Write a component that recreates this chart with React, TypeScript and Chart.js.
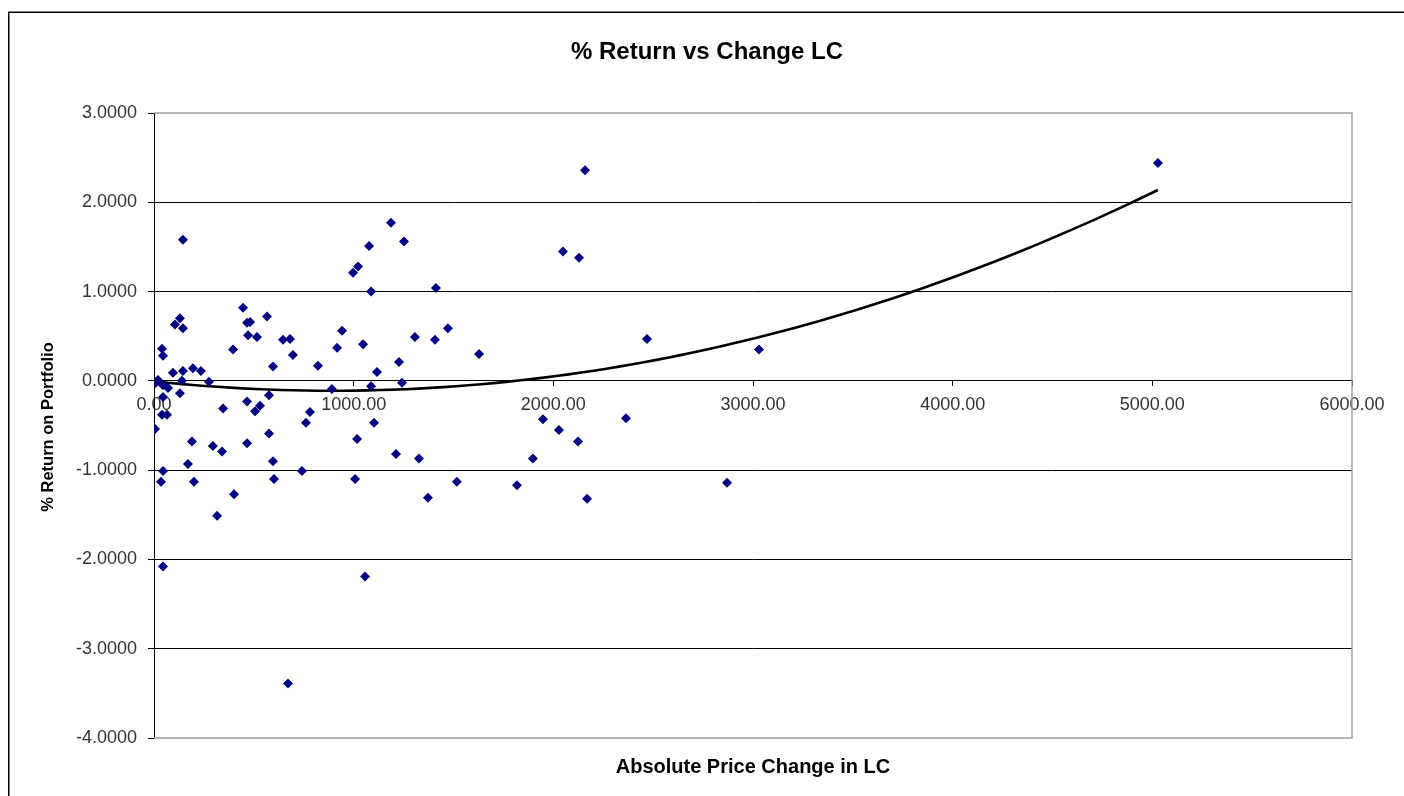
import React, { useEffect, useRef } from "react";
import { Chart, registerables } from "chart.js";

Chart.register(...registerables);

const TITLE = "% Return vs Change LC";
const X_TITLE = "Absolute Price Change in LC";
const Y_TITLE = "% Return on Portfolio";

// Absolute price change in LC (x)
const priceChange = [
  5028, 2159, 145, 1187, 1077, 1252, 1022, 997, 1087, 2048,
  2129, 1412, 446, 466, 481, 566, 471, 516, 105, 130,
  145, 942, 646, 681, 917, 40, 45, 396, 696, 596,
  821, 95, 145, 195, 235, 1047, 1307, 1407, 1472, 1227,
  1117, 1628, 2469, 3030, 20, 5, 45, 70, 140, 275,
  130, 45, 1087, 1242, 891, 576, 531, 506, 466, 346,
  781, 761, 1102, 40, 65, 5, 576, 190, 295, 341,
  466, 1017, 1948, 2028, 2124, 2364, 1327, 1898, 596, 170,
  741, 45, 1212, 35, 200, 601, 1007, 1517, 1818, 2870,
  401, 1372, 2169, 316, 45, 1057, 671,
];

// % return on portfolio (y)
const portfolioReturn = [
  2.44, 2.36, 1.58, 1.77, 1.51, 1.56, 1.28, 1.21, 1.0, 1.45,
  1.38, 1.04, 0.82, 0.65, 0.66, 0.72, 0.51, 0.49, 0.63, 0.7,
  0.59, 0.56, 0.46, 0.47, 0.37, 0.36, 0.28, 0.35, 0.29, 0.16,
  0.17, 0.09, 0.11, 0.14, 0.11, 0.41, 0.49, 0.46, 0.59, 0.21,
  0.1, 0.3, 0.47, 0.35, 0.01, -0.03, -0.05, -0.08, 0.0, -0.01,
  -0.14, -0.18, -0.06, -0.02, -0.09, -0.16, -0.28, -0.34, -0.23, -0.31,
  -0.35, -0.47, -0.47, -0.38, -0.38, -0.54, -0.59, -0.68, -0.73, -0.79,
  -0.7, -0.65, -0.43, -0.55, -0.68, -0.42, -0.87, -0.87, -0.9, -0.93,
  -1.01, -1.01, -0.82, -1.13, -1.13, -1.1, -1.1, -1.13, -1.17, -1.14,
  -1.27, -1.31, -1.32, -1.51, -2.08, -2.19, -3.39,
];

// Polynomial (order 2) trendline coefficients: y = c0 + c1*x + c2*x^2
const trendCoefficients = [-0.005, -2.36e-4, 1.317e-7];

const X_MIN = 0;
const X_MAX = 6000;
const X_STEP = 1000;
const Y_MIN = -4;
const Y_MAX = 3;
const Y_STEP = 1;

const FONT = '"Liberation Sans", Arial, sans-serif';

export default function App() {
  const ref = useRef<HTMLCanvasElement | null>(null);

  useEffect(() => {
    const canvas = ref.current;
    if (!canvas) return;
    const points = priceChange.map((x, i) => ({ x, y: portfolioReturn[i] }));
    const [c0, c1, c2] = trendCoefficients;
    const lo = Math.min(...priceChange);
    const hi = Math.max(...priceChange);
    const trend: { x: number; y: number }[] = [];
    const N = 80;
    for (let i = 0; i <= N; i++) {
      const x = lo + ((hi - lo) * i) / N;
      trend.push({ x, y: c0 + c1 * x + c2 * x * x });
    }

    const decor = {
      id: "decor",
      afterDraw(chart: any) {
        const ctx = chart.ctx;
        const a = chart.chartArea;
        ctx.save();
        // plot-area border (gray)
        ctx.strokeStyle = "#a0a0a0";
        ctx.lineWidth = 1.5;
        ctx.beginPath();
        ctx.moveTo(a.left, a.top);
        ctx.lineTo(a.right, a.top);
        ctx.lineTo(a.right, a.bottom);
        ctx.lineTo(a.left, a.bottom);
        ctx.stroke();
        // outer frame
        ctx.strokeStyle = "#000";
        ctx.lineWidth = 1.5;
        ctx.strokeRect(8.75, 12.25, 1500, 900);
        // titles
        ctx.fillStyle = "#000";
        ctx.textAlign = "center";
        ctx.textBaseline = "middle";
        ctx.font = `bold 24px ${FONT}`;
        ctx.fillText(TITLE, 707, 52);
        ctx.font = `bold 20px ${FONT}`;
        ctx.fillText(X_TITLE, (a.left + a.right) / 2, 767);
        ctx.translate(48, 427);
        ctx.rotate(-Math.PI / 2);
        ctx.font = `bold 16.5px ${FONT}`;
        ctx.fillText(Y_TITLE, 0, 0);
        ctx.restore();
      },
    };

    const chart = new Chart(canvas, {
      type: "scatter",
      data: {
        datasets: [
          {
            type: "scatter",
            data: points,
            pointStyle: "rectRot",
            pointRadius: 5,
            pointBorderWidth: 0,
            backgroundColor: "#000080",
            borderColor: "#000080",
            order: 0,
          } as any,
          {
            type: "line",
            data: trend,
            borderColor: "#000",
            borderWidth: 2.6,
            pointRadius: 0,
            fill: false,
            tension: 0,
            order: 1,
          } as any,
        ],
      },
      options: {
        responsive: false,
        animation: false,
        devicePixelRatio: 1,
        layout: { padding: { top: 113, bottom: 58, left: 10, right: 52 } },
        plugins: {
          legend: { display: false },
          tooltip: { enabled: false },
          title: { display: false },
        },
        scales: {
          x: {
            type: "linear",
            position: { y: 0 } as any,
            min: X_MIN,
            max: X_MAX,
            ticks: {
              stepSize: X_STEP,
              callback: (v: any) => Number(v).toFixed(2),
              font: { family: FONT, size: 18 },
              color: "#333",
              padding: 8,
              maxRotation: 0,
              autoSkip: false,
            },
            grid: { drawOnChartArea: false, drawTicks: true, tickLength: 5, color: "#000", tickColor: "#000" },
            border: { display: true, color: "#000", width: 1 },
            afterFit: (s: any) => {
              s.height = 0;
            },
          } as any,
          y: {
            type: "linear",
            position: "left",
            min: Y_MIN,
            max: Y_MAX,
            ticks: {
              stepSize: Y_STEP,
              callback: (v: any) => Number(v).toFixed(4),
              font: { family: FONT, size: 18 },
              color: "#333",
              padding: 11,
            },
            grid: {
              color: (c: any) =>
                c.tick && (c.tick.value === Y_MAX || c.tick.value === Y_MIN) ? "rgba(0,0,0,0)" : "#000",
              tickColor: "#000",
              tickLength: 6,
              lineWidth: 1,
            },
            border: { display: true, color: "#000", width: 1 },
            afterFit: (s: any) => {
              s.width = 144;
            },
          } as any,
        },
      },
      plugins: [decor],
    });
    return () => chart.destroy();
  }, []);

  return (
    <div style={{ position: "fixed", left: 0, top: 0, width: 1404, height: 796, background: "#fff" }}>
      <canvas ref={ref} width={1404} height={796} style={{ width: 1404, height: 796, display: "block" }} />
    </div>
  );
}
